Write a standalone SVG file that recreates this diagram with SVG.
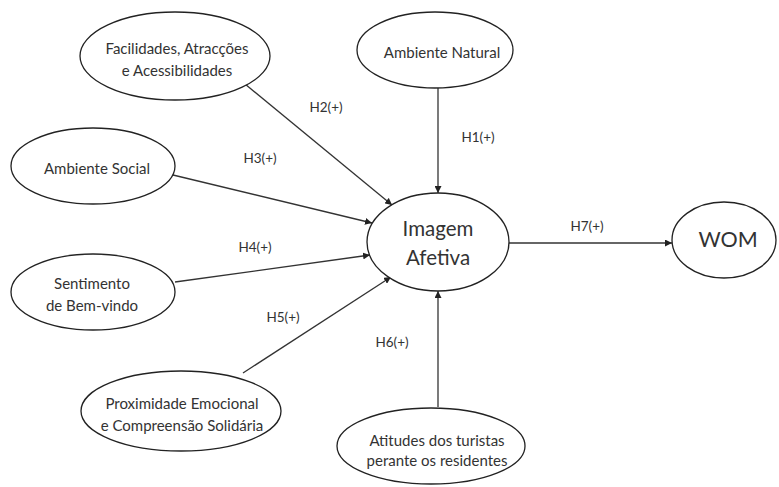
<svg xmlns="http://www.w3.org/2000/svg" width="779" height="487" viewBox="0 0 779 487">
<defs>
<marker id="arr" viewBox="0 0 10 10" refX="10" refY="5" markerWidth="7" markerHeight="7" markerUnits="userSpaceOnUse" orient="auto">
<path d="M0,0 L10,5 L0,10 z" fill="#222"/>
</marker>
</defs>
<style>
.node ellipse{fill:#fff;stroke:#222;stroke-width:1.3}
.t{font-family:Lato,"Noto Sans","Liberation Sans",sans-serif;font-size:15px;fill:#333;text-anchor:middle;dominant-baseline:central}
.big{font-size:20.5px}
.wom{font-size:21.5px}
.lbl{font-family:Lato,"Noto Sans","Liberation Sans",sans-serif;font-size:13.5px;fill:#333;text-anchor:middle;dominant-baseline:central}
.c line{stroke:#333;stroke-width:1.3;marker-end:url(#arr)}
</style>
<rect width="779" height="487" fill="#fff"/>
<g class="c" id="connectors">
<line x1="438" y1="88" x2="438" y2="193"/>
<line x1="245" y1="84" x2="392" y2="205"/>
<line x1="173" y1="175" x2="372" y2="223"/>
<line x1="175" y1="282" x2="370" y2="255"/>
<line x1="243" y1="373" x2="391" y2="277"/>
<line x1="438" y1="407" x2="438" y2="291"/>
<line x1="509" y1="243" x2="672" y2="243"/>
</g>
<g id="labels">
<text class="lbl" x="478" y="137">H1(+)</text>
<text class="lbl" x="326" y="107">H2(+)</text>
<text class="lbl" x="260" y="158">H3(+)</text>
<text class="lbl" x="255" y="247">H4(+)</text>
<text class="lbl" x="283" y="317">H5(+)</text>
<text class="lbl" x="392" y="342">H6(+)</text>
<text class="lbl" x="587" y="226">H7(+)</text>
</g>
<g class="node" id="n-facilidades">
<ellipse cx="175" cy="56" rx="95" ry="44"/>
<text class="t" x="177" y="48">Facilidades, Atracções</text>
<text class="t" x="177" y="70">e Acessibilidades</text>
</g>
<g class="node" id="n-natural">
<ellipse cx="435" cy="50" rx="78" ry="38"/>
<text class="t" x="442" y="52">Ambiente Natural</text>
</g>
<g class="node" id="n-social">
<ellipse cx="93" cy="166" rx="82" ry="38"/>
<text class="t" x="97" y="168">Ambiente Social</text>
</g>
<g class="node" id="n-sentimento">
<ellipse cx="93" cy="292" rx="82" ry="38"/>
<text class="t" x="92" y="283">Sentimento</text>
<text class="t" x="92" y="305">de Bem-vindo</text>
</g>
<g class="node" id="n-proximidade">
<ellipse cx="181" cy="411" rx="100" ry="40"/>
<text class="t" x="182" y="403">Proximidade Emocional</text>
<text class="t" x="182" y="425">e Compreensão Solidária</text>
</g>
<g class="node" id="n-atitudes">
<ellipse cx="431" cy="446" rx="94" ry="38"/>
<text class="t" x="437" y="440">Atitudes dos turistas</text>
<text class="t" x="437" y="460">perante os residentes</text>
</g>
<g class="node" id="n-imagem">
<ellipse cx="438" cy="242" rx="71" ry="49"/>
<text class="t big" x="438" y="228">Imagem</text>
<text class="t big" x="438" y="257">Afetiva</text>
</g>
<g class="node" id="n-wom">
<ellipse cx="724" cy="240" rx="52" ry="38"/>
<text class="t wom" x="728" y="239">WOM</text>
</g>
</svg>
